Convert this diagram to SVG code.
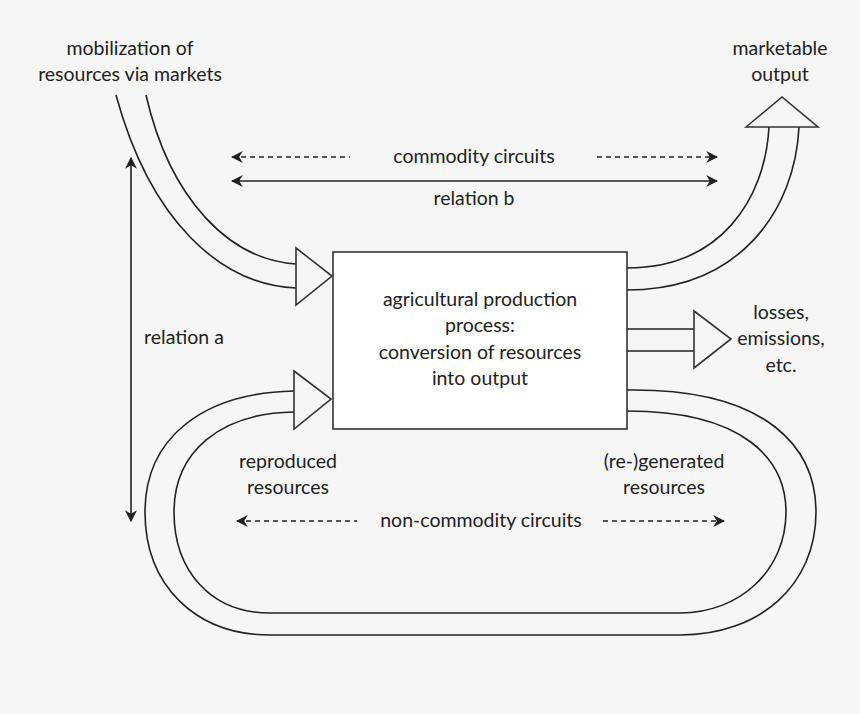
<svg xmlns="http://www.w3.org/2000/svg" width="860" height="714" viewBox="0 0 860 714">
<defs>
<marker id="ah" viewBox="0 0 10 10" refX="9" refY="5" markerWidth="12" markerHeight="12" markerUnits="userSpaceOnUse" orient="auto-start-reverse"><path d="M0,0 L10,5 L0,10 L3,5 Z" fill="#222"/></marker>
<style>
text{font-family:Lato,"Open Sans","Liberation Sans",sans-serif;font-size:19.5px;fill:#222;text-anchor:middle}
.fat{fill:#f6f6f6;stroke:#333;stroke-width:1.6}
.ln{stroke:#222;stroke-width:1.6;fill:none}
.ds{stroke-dasharray:5 4}
</style>
</defs>
<rect width="860" height="714" fill="#f6f6f6"/>
<g id="connectors">
<path class="ln" d="M116,95 C150,220 220,285 296,288 M146,95 C170,200 230,260 296,264"/>
<path class="fat" d="M296,248 L332,276 L296,305 Z"/>
<path class="ln" d="M627,268 C720,268 765,200 769,127 M627,290 C740,290 795,210 799,127"/>
<path class="fat" d="M746,127 L782,97 L818,127 Z"/>
<path class="ln" d="M627,329 L694,329 M627,351 L694,351"/>
<path class="fat" d="M694,311 L731,339 L694,368 Z"/>
<path class="ln" d="M627,390 C770,388 816,450 816,512 C816,585 760,635 680,635 L270,635 C195,635 145,585 145,512 C145,440 200,393 294,391"/>
<path class="ln" d="M627,411 C745,411 786,460 786,512 C786,570 740,613 680,613 L270,613 C210,613 174,570 174,512 C174,452 220,413 294,412"/>
<path class="fat" d="M294,371 L331,399 L294,429 Z"/>
<line class="ln ds" x1="232" y1="157" x2="350" y2="157" marker-start="url(#ah)"/>
<line class="ln ds" x1="597" y1="157" x2="717" y2="157" marker-end="url(#ah)"/>
<line class="ln" x1="232" y1="181" x2="717" y2="181" marker-start="url(#ah)" marker-end="url(#ah)"/>
<line class="ln" x1="131" y1="158" x2="131" y2="521" marker-start="url(#ah)" marker-end="url(#ah)"/>
<line class="ln ds" x1="237" y1="521" x2="357" y2="521" marker-start="url(#ah)"/>
<line class="ln ds" x1="603" y1="521" x2="724" y2="521" marker-end="url(#ah)"/>
</g>
<g id="box">
<rect x="333" y="252" width="294" height="177" fill="#fff" stroke="#333" stroke-width="1.6"/>
<text x="480" y="306">agricultural production</text>
<text x="480" y="332">process:</text>
<text x="480" y="359">conversion of resources</text>
<text x="480" y="385">into output</text>
</g>
<g id="labels">
<text x="130" y="55">mobilization of</text>
<text x="130" y="81">resources via markets</text>
<text x="780" y="55">marketable</text>
<text x="780" y="81">output</text>
<text x="474" y="163">commodity circuits</text>
<text x="474" y="205">relation b</text>
<text x="184" y="344">relation a</text>
<text x="781" y="319">losses,</text>
<text x="781" y="345">emissions,</text>
<text x="781" y="372">etc.</text>
<text x="288" y="468">reproduced</text>
<text x="288" y="494">resources</text>
<text x="664" y="468">(re-)generated</text>
<text x="664" y="494">resources</text>
<text x="481" y="527">non-commodity circuits</text>
</g>
</svg>
